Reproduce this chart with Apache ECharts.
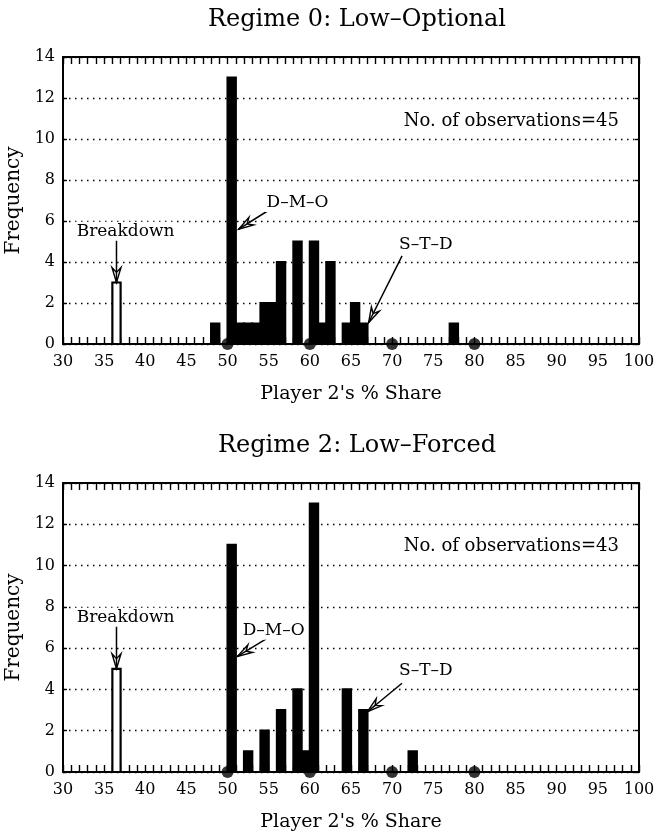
<!DOCTYPE html>
<html>
<head>
<meta charset="utf-8">
<script src="https://cdn.jsdelivr.net/npm/echarts@6/dist/echarts.min.js"></script>
<style>
  html, body { margin: 0; padding: 0; background: #fff; }
  #chart { width: 660px; height: 836px; }
</style>
</head>
<body>
<div id="chart"></div>
<script>
// Histogram bins: each bar covers [start, start + 1) of Player 2's share
const titles = ['Regime 0: Low\u2013Optional', 'Regime 2: Low\u2013Forced'];

const binStart0 = [48, 50, 51, 52, 53, 54, 55, 56, 58, 60, 61, 62, 64, 65, 66, 77];
const freq0     = [ 1, 13,  1,  1,  1,  2,  2,  4,  5,  5,  1,  4,  1,  2,  1,  1];

const binStart2 = [50, 52, 54, 56, 58, 59, 60, 64, 66, 72];
const freq2     = [11,  1,  2,  3,  4,  1, 13,  4,  3,  1];

// Breakdown outcomes (drawn as hollow bars)
const breakdownBin = 36;
const breakdown0 = 3;
const breakdown2 = 5;

// Reference shares marked on the axis
const markerShares = [50, 60, 70, 80];

const observations = [45, 43];

const xTickLabels = [30, 35, 40, 45, 50, 55, 60, 65, 70, 75, 80, 85, 90, 95, 100];
const yTickLabels = [0, 2, 4, 6, 8, 10, 12, 14];

// Annotation labels and their anchors in data units
const noteLabels = ['Breakdown', 'D\u2013M\u2013O', 'S\u2013T\u2013D'];
// [textX, textY, arrowFromX, arrowFromY, arrowToX, arrowToY]
const notes0 = [
  [37.6, 5.5, 36.5, 5.1, 36.5, 3.0],
  [58.5, 6.9, 54.9, 6.5, 51.35, 5.6],
  [74.1, 4.85, 71.2, 4.3, 67.15, 1.05]
];
const notes2 = [
  [37.6, 7.5, 36.5, 7.1, 36.5, 5.0],
  [55.6, 6.87, 54.7, 6.45, 51.2, 5.6],
  [74.1, 4.9, 71.2, 4.3, 67.0, 2.92]
];
const obsPos = [[71.4, 10.85], [71.4, 10.95]];

const FONT = '"DejaVu Serif", "Liberation Serif", serif';
const INK = '#000';

const chart = echarts.init(document.getElementById('chart'), null, { renderer: 'canvas' });

function barRender(params, api) {
  const x0 = api.value(0);
  const h = api.value(1);
  const hollow = api.value(2);
  const p0 = api.coord([x0, 0]);
  const p1 = api.coord([x0 + 1, h]);
  return {
    type: 'rect',
    shape: { x: p0[0], y: p1[1], width: p1[0] - p0[0], height: p0[1] - p1[1] },
    style: { fill: hollow ? '#fff' : INK, stroke: INK, lineWidth: 2.2 }
  };
}

function noteRender(params, api) {
  const t = api.coord([api.value(0), api.value(1)]);
  const a = api.coord([api.value(2), api.value(3)]);
  const b = api.coord([api.value(4), api.value(5)]);
  const dx = b[0] - a[0], dy = b[1] - a[1];
  const len = Math.sqrt(dx * dx + dy * dy);
  const ux = dx / len, uy = dy / len;
  const px = -uy, py = ux;
  const headL = 15, headW = 4.5, notch = 10;
  const b1 = [b[0] - ux * headL + px * headW, b[1] - uy * headL + py * headW];
  const b2 = [b[0] - ux * headL - px * headW, b[1] - uy * headL - py * headW];
  const nn = [b[0] - ux * notch, b[1] - uy * notch];
  return {
    type: 'group',
    children: [
      { type: 'line', shape: { x1: a[0], y1: a[1], x2: b[0], y2: b[1] }, style: { stroke: INK, lineWidth: 1.5 } },
      { type: 'polygon', shape: { points: [b, b1, nn, b2] }, style: { fill: '#fff', stroke: INK, lineWidth: 1.4 } },
      { type: 'line', shape: { x1: nn[0], y1: nn[1], x2: b[0], y2: b[1] }, style: { stroke: INK, lineWidth: 1.5 } },
      {
        type: 'text', x: t[0], y: t[1],
        style: {
          text: noteLabels[params.dataIndex], fill: INK, font: '17px ' + FONT,
          align: 'center', verticalAlign: 'middle',
          backgroundColor: '#fff', padding: [1, 2]
        }
      }
    ]
  };
}

function obsRenderFor(g) {
  return function (params, api) {
    const p = api.coord([api.value(0), api.value(1)]);
    return {
      type: 'text', x: p[0], y: p[1],
      style: { text: 'No. of observations=' + observations[g], fill: INK, font: '18px ' + FONT, align: 'left', verticalAlign: 'middle' }
    };
  };
}

const grids = [
  { left: 63, right: 21, top: 57, height: 287, show: false, outerBoundsMode: 'none' },
  { left: 63, right: 21, top: 483, height: 289, show: false, outerBoundsMode: 'none' }
];

const xMin = xTickLabels[0], xMax = xTickLabels[xTickLabels.length - 1];
const xStep = xTickLabels[1] - xTickLabels[0];
const yMin = yTickLabels[0], yMax = yTickLabels[yTickLabels.length - 1];
const yStep = yTickLabels[1] - yTickLabels[0];

const axisLine = { show: true, onZero: false, lineStyle: { color: INK, width: 2 } };
const tickStyle = { color: INK, width: 1.4 };

const xAxes = [], yAxes = [];
[0, 1].forEach(function (g) {
  xAxes.push({
    gridIndex: g, type: 'value', min: xMin, max: xMax, interval: xStep, position: 'bottom',
    axisLine: axisLine,
    axisTick: { show: true, inside: true, length: 7, lineStyle: tickStyle },
    minorTick: { show: true, splitNumber: 5, length: 7, lineStyle: tickStyle },
    axisLabel: { color: INK, fontFamily: FONT, fontSize: 16, margin: 10 },
    splitLine: { show: false },
    name: "Player 2's % Share", nameLocation: 'middle', nameGap: 41,
    nameTextStyle: { color: INK, fontFamily: FONT, fontSize: 19 }
  });
  xAxes.push({
    gridIndex: g, type: 'value', min: xMin, max: xMax, interval: xStep, position: 'top',
    axisLine: axisLine,
    axisTick: { show: true, inside: true, length: 7, lineStyle: tickStyle },
    minorTick: { show: true, splitNumber: 5, length: 7, lineStyle: tickStyle },
    axisLabel: { show: false }, splitLine: { show: false }
  });
  yAxes.push({
    gridIndex: g, type: 'value', min: yMin, max: yMax, interval: yStep, position: 'left',
    axisLine: axisLine,
    axisTick: { show: true, inside: true, length: 4, lineStyle: tickStyle },
    axisLabel: { color: INK, fontFamily: FONT, fontSize: 16, margin: 8 },
    splitLine: { show: true, lineStyle: { color: INK, width: 1.3, type: [1.5, 4.5] } },
    name: 'Frequency', nameLocation: 'middle', nameGap: 37,
    nameTextStyle: { color: INK, fontFamily: FONT, fontSize: 20 }
  });
  yAxes.push({
    gridIndex: g, type: 'value', min: yMin, max: yMax, interval: yStep, position: 'right',
    axisLine: axisLine,
    axisTick: { show: true, inside: true, length: 4, lineStyle: tickStyle },
    axisLabel: { show: false }, splitLine: { show: false }
  });
});

function bars(starts, freqs, bdCount) {
  const d = [[breakdownBin, bdCount, 1]];
  starts.forEach(function (s, i) { d.push([s, freqs[i], 0]); });
  return d;
}

const series = [];
const binSets = [[binStart0, freq0, breakdown0, notes0], [binStart2, freq2, breakdown2, notes2]];
binSets.forEach(function (set, g) {
  series.push({
    type: 'custom', xAxisIndex: g * 2, yAxisIndex: g * 2, renderItem: barRender,
    data: bars(set[0], set[1], set[2]), z: 3, silent: true, clip: false
  });
  series.push({
    type: 'scatter', xAxisIndex: g * 2, yAxisIndex: g * 2,
    data: markerShares.map(function (s) { return [s, 0]; }),
    symbol: 'circle', symbolSize: 12, itemStyle: { color: INK }, z: 6, silent: true, clip: false
  });
  series.push({
    type: 'custom', xAxisIndex: g * 2, yAxisIndex: g * 2, renderItem: noteRender,
    data: set[3], z: 5, silent: true, clip: false
  });
  series.push({
    type: 'custom', xAxisIndex: g * 2, yAxisIndex: g * 2, renderItem: obsRenderFor(g),
    data: [obsPos[g]], z: 5, silent: true, clip: false
  });
});

chart.setOption({
  animation: false,
  backgroundColor: '#fff',
  title: [
    { text: titles[0], left: 352, top: 3, textAlign: 'center', textStyle: { color: INK, fontFamily: FONT, fontSize: 24, fontWeight: 'normal' } },
    { text: titles[1], left: 352, top: 429, textAlign: 'center', textStyle: { color: INK, fontFamily: FONT, fontSize: 24, fontWeight: 'normal' } }
  ],
  grid: grids,
  xAxis: xAxes,
  yAxis: yAxes,
  series: series
});
</script>
</body>
</html>
